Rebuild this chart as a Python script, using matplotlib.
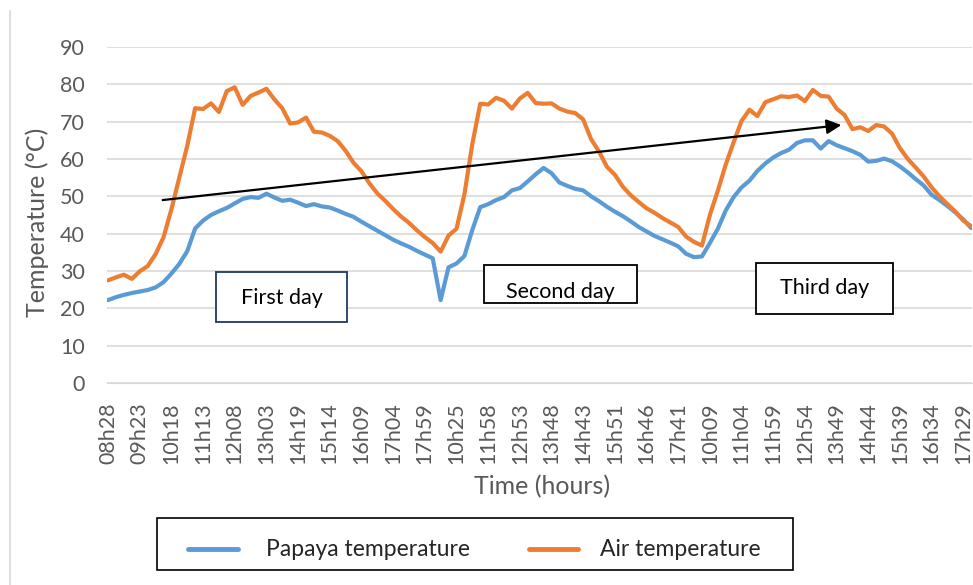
import numpy as np
import matplotlib
matplotlib.use('Agg')
import matplotlib.pyplot as plt
from matplotlib.patches import Rectangle
from matplotlib.lines import Line2D

plt.rcParams['font.family'] = ['Lato', 'DejaVu Sans']

tick_labels = ['08h28', '09h23', '10h18', '11h13', '12h08', '13h03', '14h19', '15h14',
               '16h09', '17h04', '17h59', '10h25', '11h58', '12h53', '13h48', '14h43',
               '15h51', '16h46', '17h41', '10h09', '11h04', '11h59', '12h54', '13h49',
               '14h44', '15h39', '16h34', '17h29']
# one tick label every 4 samples
papaya = [22.2, 23.0, 23.6, 24.1, 24.5, 24.9, 25.6, 27.0, 29.3, 31.9,
          35.3, 41.4, 43.5, 45.0, 46.0, 46.9, 48.1, 49.3, 49.8,
          49.6, 50.7, 49.7, 48.8, 49.1, 48.3, 47.4, 47.9, 47.3, 47.0,
          46.2, 45.3, 44.5, 43.2, 42.0, 40.8, 39.6, 38.4, 37.4, 36.5,
          35.4, 34.4, 33.4, 22.2, 31.0, 32.0, 34.0, 41.0, 47.1, 47.9,
          49.0, 49.8, 51.6, 52.2, 54.0, 55.9, 57.6, 56.2, 53.7,
          52.8, 52.0, 51.6, 50.0, 48.7, 47.2, 45.9, 44.7, 43.3, 41.8,
          40.6, 39.4, 38.5, 37.6, 36.6, 34.6, 33.7, 33.9, 37.5,
          41.3, 46.2, 49.8, 52.4, 54.2, 56.8, 58.8, 60.4, 61.6, 62.5,
          64.3, 65.0, 65.0, 62.8, 64.8, 63.7, 62.9, 62.1, 61.1, 59.3,
          59.5, 60.1, 59.4,
          58.0, 56.4, 54.6, 52.9, 50.4, 49.0, 47.4, 45.7, 43.8, 41.5]
air = [27.5, 28.3, 29.0, 27.9, 29.9, 31.3, 34.5, 39.0, 46.5, 55.0,
       63.5, 73.6, 73.4, 74.9, 72.6, 78.2, 79.2, 74.5, 76.9,
       77.8, 78.8, 76.0, 73.6, 69.5, 69.8, 71.1, 67.3, 67.1, 66.2,
       64.8, 62.2, 59.0, 56.7, 53.5, 50.8, 48.8, 46.6, 44.6, 42.9,
       40.9, 39.1, 37.5, 35.2, 39.5, 41.3, 50.5, 64.0, 74.8, 74.6,
       76.4, 75.6, 73.5, 76.2, 77.7, 75.0, 74.8, 74.9, 73.5,
       72.7, 72.3, 70.6, 65.3, 62.0, 57.9, 55.8, 52.6, 50.3, 48.5,
       46.8, 45.6, 44.2, 43.0, 41.8, 39.2, 37.8, 36.8, 45.0,
       51.5, 58.5, 64.5, 70.2, 73.2, 71.5, 75.2, 76.0, 76.8, 76.6,
       77.0, 75.5, 78.5, 76.9, 76.7, 73.5, 71.8, 68.0, 68.5, 67.5,
       69.1, 68.7, 66.8,
       62.9, 60.0, 57.7, 55.3, 52.4, 50.0, 47.9, 45.9, 43.5, 42.0]

W, H = 973, 585
fig = plt.figure(figsize=(W / 100, H / 100), dpi=100)

def fx(px):
    return px / W

def fy(py):
    return 1 - py / H

ax = fig.add_axes([fx(107), fy(383), fx(972) - fx(107), fy(47) - fy(383)])
x = np.arange(len(air))
ax.plot(x, papaya, color='#5B9BD5', lw=3, solid_capstyle='round', zorder=3)
ax.plot(x, air, color='#ED7D31', lw=3, solid_capstyle='round', zorder=3)

ax.set_xlim(-0.13, 109.1)
ax.set_ylim(0, 90)
ax.set_yticks(range(0, 91, 10))
ax.set_xticks(range(0, 4 * len(tick_labels), 4))
ax.set_xticklabels(tick_labels, rotation=90)
ax.grid(axis='y', color='#D9D9D9', lw=1.2)
ax.set_axisbelow(True)
for s in ['top', 'right', 'left']:
    ax.spines[s].set_visible(False)
ax.spines['bottom'].set_color('#D9D9D9')
ax.tick_params(length=0, labelsize=15.5, labelcolor='#595959')
ax.tick_params(axis='y', pad=16)
ax.tick_params(axis='x', pad=14)

# trend arrow
ax.annotate('', xy=(92.6, 69.1), xytext=(6.9, 49.0),
            arrowprops=dict(arrowstyle='-|>', color='black', lw=1.6,
                            mutation_scale=22, shrinkA=0, shrinkB=0), zorder=5)

# day boxes
boxes = [(216, 272, 347, 322, '#203864', 'First day', 298),
         (484, 265, 637, 303, 'black', 'Second day', 292),
         (756, 263, 893, 314, 'black', 'Third day', 288)]
for x0, y0, x1, y1, ec, txt, ty in boxes:
    fig.patches.append(Rectangle((fx(x0), fy(y1)), fx(x1) - fx(x0), fy(y0) - fy(y1),
                                 transform=fig.transFigure, facecolor='white',
                                 edgecolor=ec, lw=1.3, zorder=4))
    fig.text(fx((x0 + x1) / 2), fy(ty), txt, ha='center', va='center',
             fontsize=15.5, color='black', zorder=6)

fig.text(fx(37), fy(222), 'Temperature (°C)', rotation=90, ha='center', va='center',
         fontsize=18, color='#595959')
fig.text(fx(542), fy(487), 'Time (hours)', ha='center', va='center',
         fontsize=18, color='#595959')

# legend
fig.patches.append(Rectangle((fx(157), fy(570)), fx(793) - fx(157), fy(518) - fy(570),
                             transform=fig.transFigure, facecolor='white',
                             edgecolor='black', lw=1.2))
fig.add_artist(Line2D([fx(188), fx(238)], [fy(549), fy(549)], color='#5B9BD5', lw=3.5,
                      solid_capstyle='round'))
fig.add_artist(Line2D([fx(529), fx(578)], [fy(549), fy(549)], color='#ED7D31', lw=3.5,
                      solid_capstyle='round'))
fig.text(fx(266), fy(549), 'Papaya temperature', ha='left', va='center', fontsize=16.5,
         color='#262626')
fig.text(fx(600), fy(549), 'Air temperature', ha='left', va='center', fontsize=16.5,
         color='#262626')

# chart border on the left
fig.add_artist(Line2D([fx(10), fx(10)], [fy(11), fy(585)], color='#D9D9D9', lw=1.2))

fig.savefig('out.png', dpi=100)
